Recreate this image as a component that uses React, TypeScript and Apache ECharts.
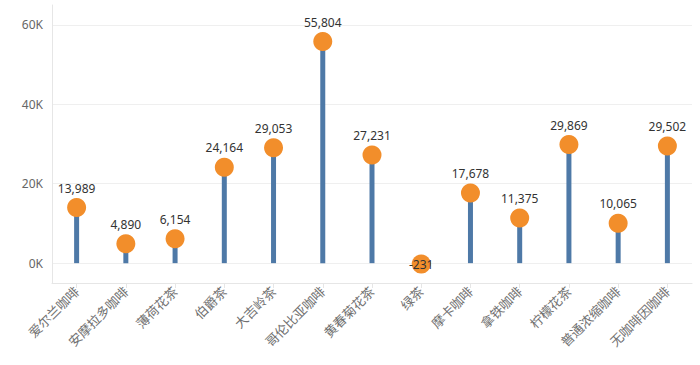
import React, { useEffect, useRef } from "react";
import * as echarts from "echarts";

const categories = ["爱尔兰咖啡", "安摩拉多咖啡", "薄荷花茶", "伯爵茶", "大吉岭茶", "哥伦比亚咖啡", "黄春菊花茶", "绿茶", "摩卡咖啡", "拿铁咖啡", "柠檬花茶", "普通浓缩咖啡", "无咖啡因咖啡"];
const values = [13989, 4890, 6154, 24164, 29053, 55804, 27231, -231, 17678, 11375, 29869, 10065, 29502];
const yTickLabels = [0, 20000, 40000, 60000];

const FONT = "'Noto Sans', 'Noto Sans CJK SC', sans-serif";

export default function App() {
  const ref = useRef<HTMLDivElement>(null);
  useEffect(() => {
    if (!ref.current) return;
    const chart = echarts.init(ref.current, undefined, { renderer: "svg" });
    const fmt = (v: number) => v.toLocaleString("en-US");
    chart.setOption({
      animation: false,
      textStyle: { fontFamily: FONT },
      grid: { left: 52, right: 8, top: 5, bottom: 82, containLabel: false },
      xAxis: {
        type: "category",
        data: categories,
        axisLine: { show: true, onZero: false, lineStyle: { color: "#e6e6e6" } },
        axisTick: { show: true, alignWithLabel: true, length: 5, lineStyle: { color: "#e6e6e6" } },
        axisLabel: { rotate: 45, color: "#707070", fontSize: 13, margin: 6, interval: 0, fontFamily: FONT },
      },
      yAxis: {
        type: "value",
        min: -5000,
        max: 65000,
        interval: 5000,
        axisLine: { show: true, lineStyle: { color: "#e6e6e6" } },
        axisTick: { show: false },
        axisLabel: {
          color: "#666",
          fontSize: 12,
          margin: 9,
          fontFamily: FONT,
          formatter: (v: number) => (yTickLabels.indexOf(v) >= 0 ? v / 1000 + "K" : ""),
        },
        splitLine: {
          show: true,
          showMinLine: false,
          showMaxLine: false,
          lineStyle: { color: ["#efefef", "rgba(0,0,0,0)", "rgba(0,0,0,0)", "rgba(0,0,0,0)"] },
        },
      },
      series: [
        {
          type: "bar",
          data: values,
          barWidth: 5,
          itemStyle: { color: "#4e79a7" },
          z: 2,
        },
        {
          type: "scatter",
          data: values.map((v) =>
            v < 0 ? { value: v, label: { position: "inside" } } : v
          ),
          symbolSize: 19,
          itemStyle: { color: "#f28e2b", opacity: 1 },
          z: 3,
          label: {
            show: true,
            position: "top",
            distance: 4,
            color: "#333",
            fontSize: 12,
            fontFamily: FONT,
            formatter: (p: any) => fmt(p.value),
          },
        },
      ],
    });
    return () => chart.dispose();
  }, []);
  return <div ref={ref} style={{ position: "absolute", left: 0, top: 0, width: 700, height: 365 }} />;
}
